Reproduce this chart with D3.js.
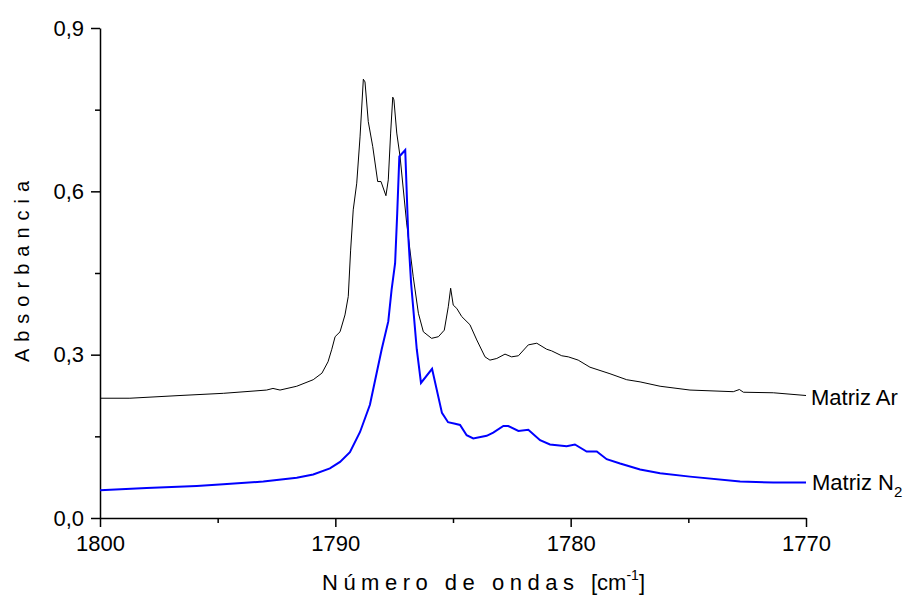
<!DOCTYPE html>
<html>
<head>
<meta charset="utf-8">
<script src="https://cdn.jsdelivr.net/npm/d3@7"></script>
<style>
  body { margin: 0; background: #fff; }
  svg text { font-family: 'Liberation Sans', Arial, sans-serif; fill: #000; }
</style>
</head>
<body>
<div id="chart"></div>
<script>
// spectra: [wavenumber, absorbance]
var matrizAr = [
    [1800.00, 0.220], [1798.73, 0.220], [1796.60, 0.225], [1794.76, 0.229], [1792.92, 0.235],
    [1792.65, 0.238], [1792.35, 0.235], [1791.64, 0.242], [1790.94, 0.254], [1790.57, 0.266],
    [1790.31, 0.287], [1790.15, 0.310], [1790.01, 0.333], [1789.80, 0.342], [1789.59, 0.373],
    [1789.45, 0.407], [1789.35, 0.492], [1789.24, 0.566], [1789.09, 0.615], [1788.95, 0.700],
    [1788.81, 0.806], [1788.74, 0.801], [1788.60, 0.728], [1788.41, 0.682], [1788.20, 0.618],
    [1788.06, 0.618], [1787.85, 0.592], [1787.75, 0.621], [1787.65, 0.707], [1787.56, 0.773],
    [1787.51, 0.768], [1787.39, 0.707], [1787.25, 0.664], [1786.97, 0.542], [1786.69, 0.443],
    [1786.47, 0.376], [1786.26, 0.342], [1785.91, 0.330], [1785.62, 0.333], [1785.37, 0.345],
    [1785.20, 0.388], [1785.10, 0.422], [1784.99, 0.391], [1784.84, 0.385], [1784.63, 0.370],
    [1784.28, 0.355], [1783.99, 0.327], [1783.64, 0.296], [1783.43, 0.290], [1783.14, 0.293],
    [1782.79, 0.301], [1782.51, 0.296], [1782.22, 0.298], [1781.80, 0.318], [1781.44, 0.321],
    [1781.02, 0.310], [1780.81, 0.307], [1780.38, 0.298], [1780.10, 0.296], [1779.68, 0.290],
    [1779.18, 0.277], [1778.33, 0.265], [1777.62, 0.254], [1777.05, 0.250], [1776.20, 0.242],
    [1774.93, 0.235], [1773.09, 0.232], [1772.83, 0.236], [1772.66, 0.231], [1771.39, 0.230],
    [1770.00, 0.225]
]

var matrizN2 = [
    [1800.00, 0.051], [1798.02, 0.055], [1795.89, 0.059], [1794.76, 0.062], [1793.06, 0.067],
    [1791.64, 0.074], [1790.94, 0.080], [1790.23, 0.091], [1789.80, 0.103], [1789.38, 0.121],
    [1788.95, 0.158], [1788.53, 0.208], [1788.03, 0.310], [1787.75, 0.361], [1787.61, 0.419],
    [1787.46, 0.468], [1787.37, 0.560], [1787.28, 0.664], [1787.03, 0.676], [1786.90, 0.517],
    [1786.78, 0.431], [1786.54, 0.310], [1786.36, 0.248], [1785.89, 0.274], [1785.47, 0.193],
    [1785.21, 0.176], [1784.91, 0.173], [1784.70, 0.171], [1784.42, 0.152], [1784.14, 0.146],
    [1783.57, 0.151], [1783.29, 0.157], [1782.86, 0.169], [1782.65, 0.169], [1782.22, 0.160],
    [1781.80, 0.162], [1781.30, 0.143], [1780.88, 0.135], [1780.17, 0.132], [1779.82, 0.135],
    [1779.32, 0.122], [1778.89, 0.122], [1778.47, 0.108], [1777.90, 0.100], [1777.05, 0.089],
    [1776.20, 0.082], [1774.93, 0.076], [1772.80, 0.067], [1771.39, 0.065], [1770.00, 0.065]
]

var xTicks = [1800, 1790, 1780, 1770]
var xMinor = [1795, 1785, 1775]
var yTicks = [0, 0.3, 0.6, 0.9]
var yMinor = [0.15, 0.45, 0.75]

var width = 907
var height = 597
var margin = { left: 100, right: 101, top: 28, bottom: 79 }

var x = d3.scaleLinear()
    .domain([1800, 1770])
    .range([margin.left, width - margin.right])

var y = d3.scaleLinear()
    .domain([0, 0.9])
    .range([height - margin.bottom, margin.top])

var svg = d3.select('#chart').append('svg')
    .attr('width', width)
    .attr('height', height)

var fmt = function(d) { return d3.format('.1f')(d).replace('.', ',') }

// minor ticks first, majors drawn over them
svg.append('g')
    .attr('transform', 'translate(0,' + y(0) + ')')
    .call(d3.axisBottom(x).tickValues(xMinor).tickSize(5).tickFormat(''))
    .call(function(g) { g.select('.domain').remove() })

svg.append('g')
    .attr('transform', 'translate(' + x(1800) + ',0)')
    .call(d3.axisLeft(y).tickValues(yMinor).tickSize(5).tickFormat(''))
    .call(function(g) { g.select('.domain').remove() })

svg.append('g')
    .attr('transform', 'translate(0,' + y(0) + ')')
    .call(d3.axisBottom(x).tickValues(xTicks).tickSize(9).tickSizeOuter(0).tickPadding(8).tickFormat(d3.format('d')))

svg.append('g')
    .attr('transform', 'translate(' + x(1800) + ',0)')
    .call(d3.axisLeft(y).tickValues(yTicks).tickSize(9).tickSizeOuter(0).tickPadding(7).tickFormat(fmt))

svg.selectAll('.domain, .tick line')
    .attr('stroke', '#000')
    .attr('stroke-width', 1.5)

svg.selectAll('.tick text')
    .style('font-size', '22px')
    .style('font-family', "'Liberation Sans', Arial, sans-serif")

var line = d3.line()
    .x(function(d) { return x(d[0]) })
    .y(function(d) { return y(d[1]) })

svg.append('path')
    .datum(matrizAr)
    .attr('d', line)
    .attr('fill', 'none')
    .attr('stroke', '#000')
    .attr('stroke-width', 1)

svg.append('path')
    .datum(matrizN2)
    .attr('d', line)
    .attr('fill', 'none')
    .attr('stroke', '#0000ff')
    .attr('stroke-width', 2)

// curve labels
svg.append('text')
    .attr('x', x(1770) + 5)
    .attr('y', y(0.225) + 9)
    .style('font-size', '22px')
    .text('Matriz Ar')

var n2 = svg.append('text')
    .attr('x', x(1770) + 6)
    .attr('y', y(0.065) + 7)
    .style('font-size', '22px')
n2.append('tspan').text('Matriz N')
n2.append('tspan').attr('dy', 7).style('font-size', '15px').text('2')

// axis titles
var xt = svg.append('text')
    .attr('x', 322)
    .attr('y', 590)
    .style('font-size', '22px')
xt.append('tspan').style('letter-spacing', '5.5px').text('Número de ondas ')
xt.append('tspan').text('[cm')
xt.append('tspan').attr('dy', -10).style('font-size', '14px').text('-1')
xt.append('tspan').attr('dy', 10).text(']')

svg.append('text')
    .attr('transform', 'translate(29,268) rotate(-90)')
    .attr('text-anchor', 'middle')
    .style('font-size', '20px')
    .style('letter-spacing', '7px')
    .text('Absorbancia')
</script>
</body>
</html>
